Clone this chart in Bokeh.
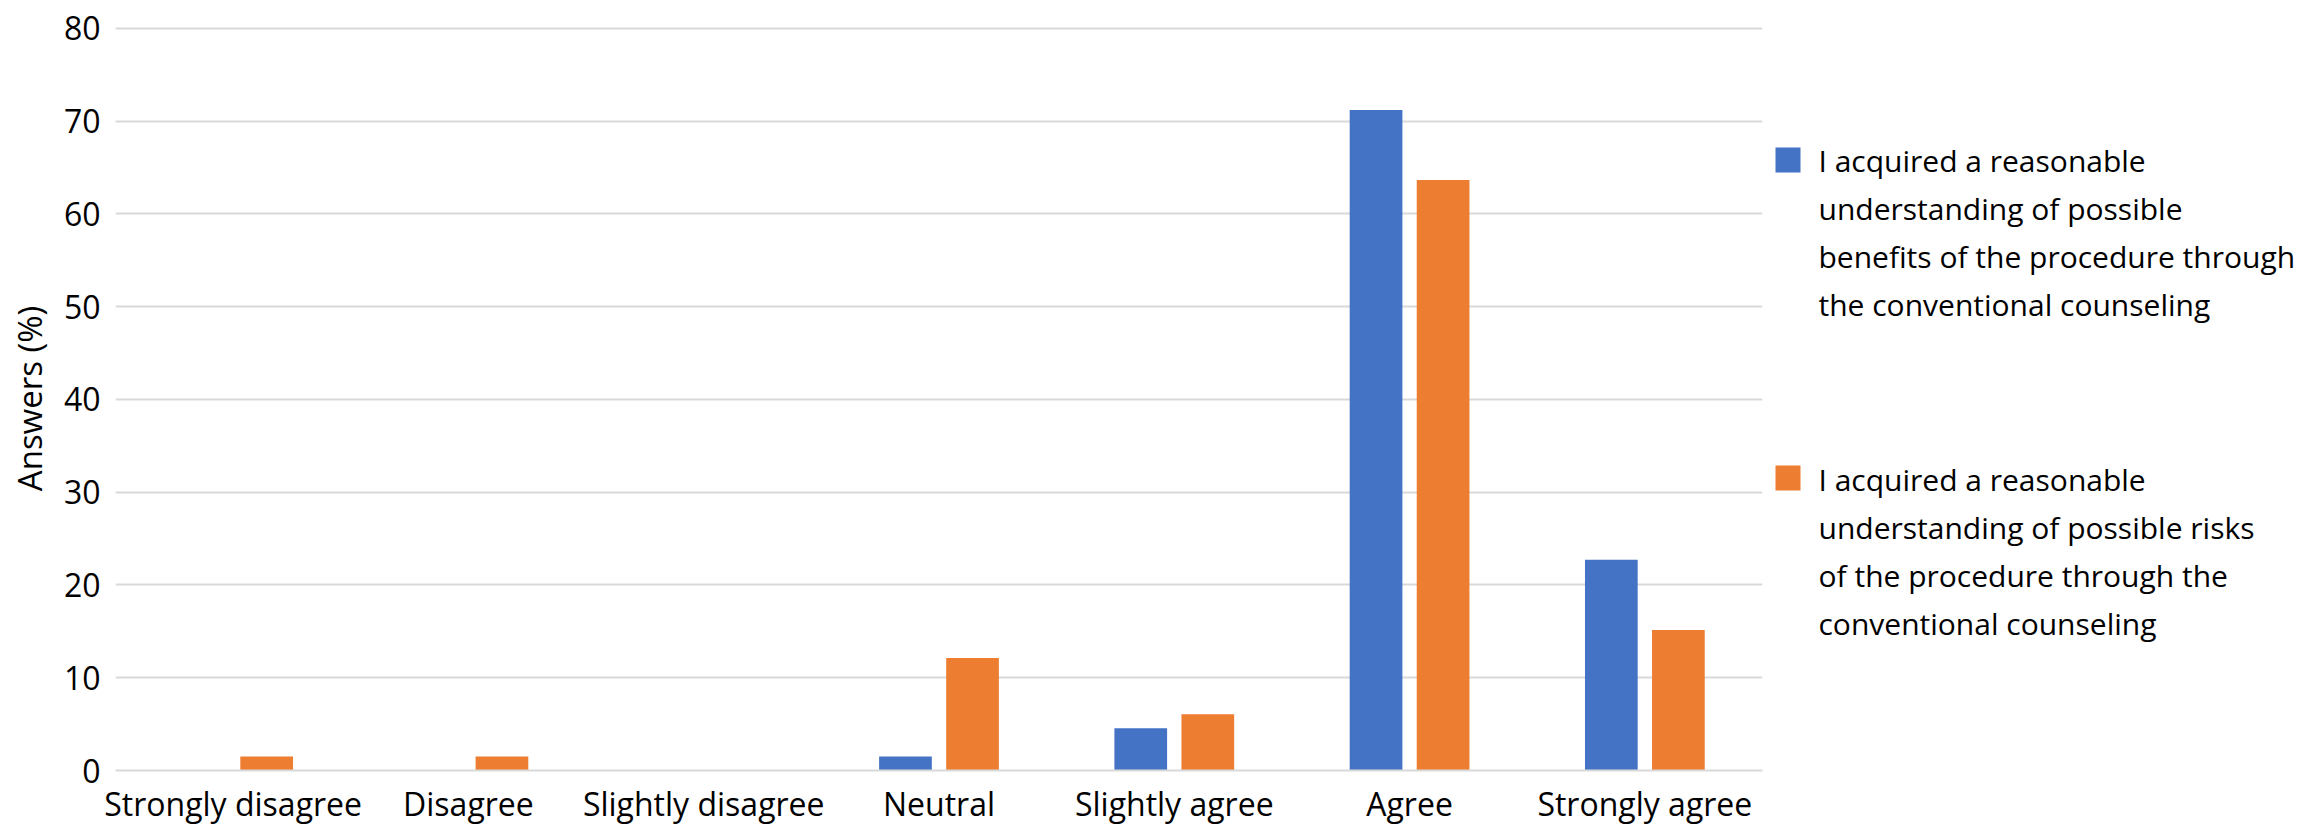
from bokeh.plotting import figure
from bokeh.layouts import row
from bokeh.models import Range1d, FactorRange, FixedTicker, ColumnDataSource
from bokeh.core.properties import value
from bokeh.transform import dodge
from bokeh.embed import file_html
from bokeh.resources import INLINE

categories = ["Strongly disagree", "Disagree", "Slightly disagree", "Neutral",
              "Slightly agree", "Agree", "Strongly agree"]
benefits = [0, 0, 0, 1.52, 4.55, 71.21, 22.73]
risks = [1.52, 1.52, 0, 12.12, 6.06, 63.64, 15.15]
y_ticks = [0, 10, 20, 30, 40, 50, 60, 70, 80]
series_labels = [
    "I acquired a reasonable\nunderstanding of possible\nbenefits of the procedure through\nthe conventional counseling",
    "I acquired a reasonable\nunderstanding of possible risks\nof the procedure through the\nconventional counseling",
]
colors = ["#4472C4", "#ED7D31"]

FONT = "Open Sans"
H = 830
TOP, BOTTOM = 26, 60

src = ColumnDataSource(dict(cat=categories, benefits=benefits, risks=risks))

p = figure(x_range=FactorRange(*categories, range_padding=0), y_range=Range1d(0, 80.2),
           width=1770, height=H, output_backend="svg", toolbar_location=None,
           min_border_left=115, min_border_right=8, min_border_top=TOP, min_border_bottom=BOTTOM)

r1 = p.vbar(x=dodge("cat", -0.1425, range=p.x_range), top="benefits", width=0.224,
            source=src, fill_color=colors[0], line_color=None)
r2 = p.vbar(x=dodge("cat", 0.1425, range=p.x_range), top="risks", width=0.224,
            source=src, fill_color=colors[1], line_color=None)

p.outline_line_color = None
p.background_fill_color = "white"
p.border_fill_color = "white"
p.xgrid.visible = False
p.ygrid.grid_line_color = "#D9D9D9"
p.ygrid.grid_line_width = 2
p.ygrid.level = "underlay"

p.yaxis.ticker = FixedTicker(ticks=y_ticks)
for ax in (p.xaxis[0], p.yaxis[0]):
    ax.major_tick_line_color = None
    ax.minor_tick_line_color = None
    ax.major_tick_out = 0
    ax.major_tick_in = 0
    ax.minor_tick_out = 0
    ax.major_label_text_font = FONT
    ax.major_label_text_font_size = "32px"
    ax.major_label_text_color = "#000000"
p.yaxis.axis_line_color = None
p.xaxis.axis_line_color = "#D9D9D9"
p.xaxis.axis_line_width = 2
p.xaxis.major_label_standoff = 11
p.yaxis.major_label_standoff = 15
p.yaxis.axis_label = "Answers (%)"
p.yaxis.axis_label_text_font = FONT
p.yaxis.axis_label_text_font_size = "33px"
p.yaxis.axis_label_text_font_style = "normal"
p.yaxis.axis_label_text_color = "#000000"
p.yaxis.axis_label_standoff = 9

# Legend drawn in a side panel figure whose ranges map 1:1 to screen pixels
LW = 537
leg = figure(width=LW, height=H, x_range=Range1d(0, LW), y_range=Range1d(H - BOTTOM, TOP),
             min_border_left=0, min_border_right=0, min_border_top=TOP, min_border_bottom=BOTTOM,
             x_axis_location=None, y_axis_location=None,
             toolbar_location=None, output_backend="svg")
leg.outline_line_color = None
leg.grid.visible = False
leg.background_fill_color = "white"
leg.border_fill_color = "white"

leg_src = ColumnDataSource(dict(
    sx=[17.5, 17.5], sy=[159.5, 477.5],
    tx=[48, 48], ty=[139.5, 458.5],
    label=series_labels, color=colors))
leg.rect(x="sx", y="sy", width=25, height=25, source=leg_src,
         fill_color="color", line_color=None)
leg.text(x="tx", y="ty", text="label", source=leg_src,
         text_font=value(FONT), text_font_size="30px", text_color="#000000",
         text_baseline="top", text_align="left", text_line_height=1.174)

layout = row(p, leg, spacing=0)
open("out.html", "w").write(file_html(layout, INLINE))
